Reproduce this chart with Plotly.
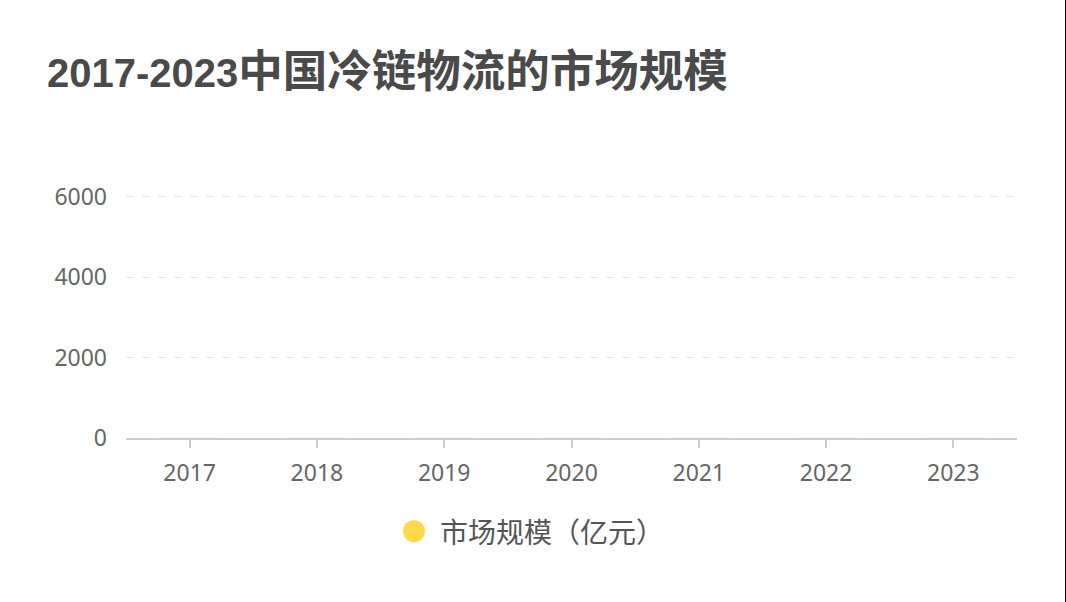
import plotly.graph_objects as go

# Data (bars are shown at their initial, near-zero height in the reference)
years = ["2017", "2018", "2019", "2020", "2021", "2022", "2023"]
market_size = [0, 0, 0, 0, 0, 0, 0]
y_ticks = [0, 2000, 4000, 6000]
series_name = "市场规模（亿元）"
title_years = "2017-2023"
title_rest = "中国冷链物流的市场规模"

W, H = 1066, 602
Y_TOP = 6040  # slightly above 6000 so the 6000 gridline is drawn
ML, MR, MB = 126, 49, 164
PH = (438 - 197) * Y_TOP / 6000
MT = H - MB - PH
PW = W - ML - MR

def px_x(p):
    return (p - ML) / PW

def px_y(p):
    return (H - MB - p) / PH

bar_color = "#FFD94B"
label_font = dict(family="Noto Sans, Noto Sans CJK SC, sans-serif", size=23, color="#666666")

fig = go.Figure()
fig.add_trace(go.Bar(
    x=years, y=market_size, name=series_name,
    marker=dict(color=bar_color), width=0.5, showlegend=False,
))

fig.update_layout(
    width=W, height=H,
    margin=dict(l=ML, r=MR, t=MT, b=MB, pad=0),
    paper_bgcolor="white", plot_bgcolor="white",
    title=dict(
        text=f'<span style="font-size:40px">{title_years}</span>{title_rest}',
        xref="container", yref="container",
        x=47 / W, xanchor="left", y=1 - 71 / H, yanchor="middle",
        font=dict(family="Liberation Sans, Noto Sans CJK SC, sans-serif",
                  size=44.5, color="#4a4a4a", weight="bold"),
    ),
    showlegend=False,
    xaxis=dict(
        type="category", range=[-0.5, 6.5],
        showline=True, linecolor="#cccccc", linewidth=2,
        ticks="outside", ticklen=8, tickwidth=2, tickcolor="#cccccc",
        showgrid=False, tickfont=label_font, ticklabelstandoff=5,
        fixedrange=True,
    ),
    yaxis=dict(
        range=[0, Y_TOP], tickvals=y_ticks, ticktext=[str(v) for v in y_ticks],
        showline=False, zeroline=False,
        showgrid=True, gridcolor="#e3e3e3", gridwidth=1, griddash="8px,8px",
        ticks="", tickfont=label_font, ticklabelstandoff=18,
        fixedrange=True,
    ),
)

# Legend (drawn manually to match the large round icon)
cx, cy, r = 414, 531, 11
fig.add_shape(type="circle", xref="paper", yref="paper",
              x0=px_x(cx - r), x1=px_x(cx + r), y0=px_y(cy + r), y1=px_y(cy - r),
              fillcolor=bar_color, line=dict(width=0))
fig.add_annotation(text=series_name, xref="paper", yref="paper",
                   x=px_x(438), y=px_y(cy), xanchor="left", yanchor="middle",
                   showarrow=False,
                   font=dict(family="Noto Sans CJK SC, sans-serif", size=28, color="#555555"))

# Right frame edge
fig.add_shape(type="line", xref="paper", yref="paper",
              x0=px_x(1065.5), x1=px_x(1065.5), y0=-1, y1=2,
              line=dict(color="black", width=1))

fig.write_html("out.html", config={"displayModeBar": False},
               post_script="document.body.style.margin='0';")
